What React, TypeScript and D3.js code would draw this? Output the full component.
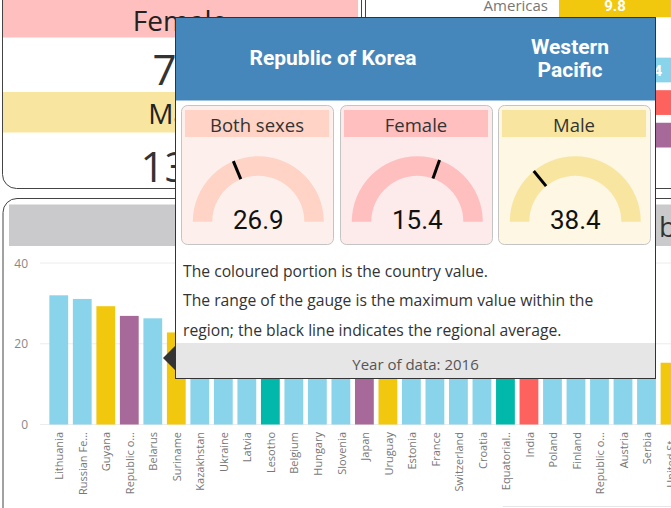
import React from 'react';
import * as d3 from 'd3';

// ---------- data ----------
const countries = [
  'Lithuania', 'Russian Federation', 'Guyana', 'Republic of Korea', 'Belarus', 'Suriname',
  'Kazakhstan', 'Ukraine', 'Latvia', 'Lesotho', 'Belgium', 'Hungary', 'Slovenia', 'Japan',
  'Uruguay', 'Estonia', 'France', 'Switzerland', 'Croatia', 'Equatorial Guinea', 'India',
  'Poland', 'Finland', 'Republic of Moldova', 'Austria', 'Serbia', 'United States of America',
];
const countryLabels = [
  'Lithuania', 'Russian Fe...', 'Guyana', 'Republic o...', 'Belarus', 'Suriname',
  'Kazakhstan', 'Ukraine', 'Latvia', 'Lesotho', 'Belgium', 'Hungary', 'Slovenia', 'Japan',
  'Uruguay', 'Estonia', 'France', 'Switzerland', 'Croatia', 'Equatorial..', 'India',
  'Poland', 'Finland', 'Republic o...', 'Austria', 'Serbia', 'United St...',
];
const rates = [
  32.0, 31.1, 29.3, 26.9, 26.3, 22.8, 22.6, 22.4, 21.2, 20.9, 20.7, 19.1, 18.6, 18.5,
  18.4, 17.8, 17.7, 17.2, 16.5, 16.4, 16.3, 16.2, 15.9, 15.9, 15.6, 15.5, 15.3,
];
const countryRegions = [
  'Europe', 'Europe', 'Americas', 'Western Pacific', 'Europe', 'Americas',
  'Europe', 'Europe', 'Europe', 'Africa', 'Europe', 'Europe', 'Europe', 'Western Pacific',
  'Americas', 'Europe', 'Europe', 'Europe', 'Europe', 'Africa', 'South-East Asia',
  'Europe', 'Europe', 'Europe', 'Europe', 'Europe', 'Americas',
];
const yTicks = [0, 20, 40];

const regionNames = ['Americas', 'Eastern Mediterranean', 'Europe', 'South-East Asia', 'Western Pacific'];
const regionRates = [9.8, 4.3, 15.4, 13.4, 10.2];

const globalLabels = ['Female', 'Male'];
const globalValues = ['7.7', '13.5'];

const tooltipCountry = 'Republic of Korea';
const tooltipRegionLines = ['Western', 'Pacific'];
const gaugeLabels = ['Both sexes', 'Female', 'Male'];
const gaugeValues = [26.9, 15.4, 38.4];
const gaugeMax = [26.9, 15.4, 38.4];
const gaugeAvg = [10.1, 9.4, 10.8];
const noteLines = [
  'The coloured portion is the country value.',
  'The range of the gauge is the maximum value within the',
  'region; the black line indicates the regional average.',
];
const footerText = 'Year of data: 2016';

// ---------- styles ----------
const regionColour: Record<string, string> = {
  Africa: '#01B8AA',
  Americas: '#F2C80F',
  'Eastern Mediterranean': '#374649',
  Europe: '#8AD4EB',
  'South-East Asia': '#FD625E',
  'Western Pacific': '#A66999',
};
const gaugeHeadColours = ['#FFD3C5', '#FFBFBF', '#F8E6A0'];
const gaugePanelColours = ['#FDF0EC', '#FDEAEA', '#FDF7E3'];
const globalBandColours = ['#FFBFBF', '#F8E6A0'];
const UI = '"Open Sans", "Noto Sans", sans-serif';
const DIN = 'Roboto, "DejaVu Sans", sans-serif';

export default function App() {
  const W = 671, H = 508;

  // bar chart scales
  const step = 23.51;
  const x = d3.scaleBand<string>()
    .domain(countries)
    .range([47, 47 + step * countries.length])
    .paddingInner(0.2)
    .paddingOuter(0.1);
  const y = d3.scaleLinear().domain([0, 40]).range([424.5, 263]);

  // top-right region bars
  const rb = d3.scaleLinear().domain([0, 10]).range([0, 114.3]);
  const rowY = d3.scaleBand<string>().domain(regionNames).range([-7.5, -7.5 + 31 * regionNames.length]).paddingInner(0.24).paddingOuter(0);

  // gauges
  const panelX = [181, 340, 498];
  const rOuter = 65.5, rInner = 46;
  const arcGen = d3.arc<any>().innerRadius(rInner).outerRadius(rOuter);
  const ang = d3.scaleLinear().range([-Math.PI / 2, Math.PI / 2]);

  const r = 14;
  return (
    <svg width={W} height={H} style={{ position: 'absolute', left: 0, top: 0, background: '#fff' }}>
      <defs>
        <clipPath id="clipAll"><rect x={0} y={0} width={W} height={H} /></clipPath>
      </defs>
      {/* ---------- top-left card ---------- */}
      <path d={`M2.5,-2 V${188.5 - r} A${r},${r} 0 0 0 ${2.5 + r},188.5 H361.5 V-2`} fill="#fff" stroke="#444" />
      {globalLabels.map((lab, i) => {
        const bandY = [0, 92][i];
        const bandH = [37.5, 40.5][i];
        const numY = [68, 165][i];
        return (
          <g key={lab}>
            <rect x={3} y={bandY} width={355} height={bandH} fill={globalBandColours[i]} />
            <text x={180} y={bandY + bandH / 2 + 1} textAnchor="middle" dominantBaseline="central" fontFamily={UI} fontSize={28} fill="#222">{lab}</text>
            <text x={182} y={numY} textAnchor="middle" dominantBaseline="central" fontFamily={UI} fontSize={42} fill="#333">{globalValues[i]}</text>
          </g>
        );
      })}

      {/* ---------- top-right card ---------- */}
      <path d={`M365.5,-2 V188.5 H680`} fill="none" stroke="#444" />
      {regionNames.map((nm, i) => {
        const top = rowY(nm)!;
        const h = rowY.bandwidth();
        const len = rb(regionRates[i]);
        return (
          <g key={nm}>
            <text x={548} y={top + h / 2} textAnchor="end" dominantBaseline="central" fontFamily={UI} fontSize={15} fill="#777">{nm}</text>
            <rect x={559} y={top} width={len} height={h} fill={regionColour[nm]} />
            <text x={559 + len / 2} y={top + h / 2 + 1} textAnchor="middle" dominantBaseline="central" fontFamily={DIN} fontWeight="bold" fontSize={15} fill="#fff">{regionRates[i].toFixed(1)}</text>
          </g>
        );
      })}

      {/* ---------- bottom card ---------- */}
      <path d={`M3,510 V${198.5 + r} A${r},${r} 0 0 1 ${3 + r},198.5 H680`} fill="#fff" stroke="#444" />
      <rect x={9} y={204.5} width={670} height={41.5} fill="#CACACC" />
      <text x={659} y={237} fontFamily={UI} fontSize={28} fill="#333">b</text>
      <line x1={503} x2={671} y1={506.5} y2={506.5} stroke="#e6e6e6" />

      {yTicks.map(t => (
        <g key={t}>
          <line x1={40} x2={W} y1={y(t)} y2={y(t)} stroke="#ececec" />
          <text x={28} y={y(t)} textAnchor="end" dominantBaseline="central" fontFamily={UI} fontSize={12} fill="#888">{t}</text>
        </g>
      ))}
      <g clipPath="url(#clipAll)">
        {countries.map((c, i) => (
          <g key={c}>
            <rect x={x(c)!} y={y(rates[i])} width={x.bandwidth()} height={y(0) - y(rates[i])} fill={regionColour[countryRegions[i]]} />
            <text transform={`translate(${x(c)! + x.bandwidth() / 2},432) rotate(-90)`} dy="0.42em" textAnchor="end" fontFamily={UI} fontSize={11} fill="#777">{countryLabels[i]}</text>
          </g>
        ))}
      </g>

      {/* ---------- tooltip ---------- */}
      <polygon points="175,346 163,358 175,370" fill="#333" />
      <rect x={175.5} y={17.5} width={480} height={361} fill="#fff" stroke="#333" />
      <rect x={176} y={18} width={479} height={82.5} fill="#4687BB" />
      <text x={333} y={58} textAnchor="middle" dominantBaseline="central" fontFamily={DIN} fontWeight="bold" fontSize={21} fill="#fff">{tooltipCountry}</text>
      {tooltipRegionLines.map((l, i) => (
        <text key={l} x={570} y={47 + i * 23} textAnchor="middle" dominantBaseline="central" fontFamily={DIN} fontWeight="bold" fontSize={21} fill="#fff">{l}</text>
      ))}

      {gaugeLabels.map((lab, i) => {
        const px = panelX[i];
        const cx = px + 77.3, cy = 221.7;
        ang.domain([0, gaugeMax[i]]);
        const a = ang(gaugeAvg[i]);
        const valueArc = arcGen({ startAngle: -Math.PI / 2, endAngle: ang(gaugeValues[i]) });
        const bgArc = arcGen({ startAngle: -Math.PI / 2, endAngle: Math.PI / 2 });
        return (
          <g key={lab}>
            <rect x={px + 0.5} y={105.5} width={152} height={139} rx={6} fill={gaugePanelColours[i]} stroke="#c4c4c4" />
            <rect x={px + 4} y={110} width={144} height={27} fill={gaugeHeadColours[i]} />
            <text x={px + 76} y={124} textAnchor="middle" dominantBaseline="central" fontFamily={UI} fontSize={18.5} fill="#333">{lab}</text>
            <g transform={`translate(${cx},${cy})`}>
              <path d={bgArc!} fill={gaugePanelColours[i]} />
              <path d={valueArc!} fill={gaugeHeadColours[i]} />
              <line x1={rInner * Math.sin(a)} y1={-rInner * Math.cos(a)} x2={rOuter * Math.sin(a)} y2={-rOuter * Math.cos(a)} stroke="#000" strokeWidth={3} />
            </g>
            <text x={cx} y={229} textAnchor="middle" fontFamily={DIN} fontSize={26} fill="#111">{gaugeValues[i].toFixed(1)}</text>
          </g>
        );
      })}

      {noteLines.map((l, i) => (
        <text key={i} x={183} y={271 + i * 29.3} dominantBaseline="central" fontFamily={UI} fontSize={15.7} fill="#333">{l}</text>
      ))}
      <rect x={176} y={343} width={479} height={35} fill="#E6E6E7" />
      <text x={415.5} y={364} textAnchor="middle" dominantBaseline="central" fontFamily={UI} fontSize={15} fill="#555">{footerText}</text>
    </svg>
  );
}
